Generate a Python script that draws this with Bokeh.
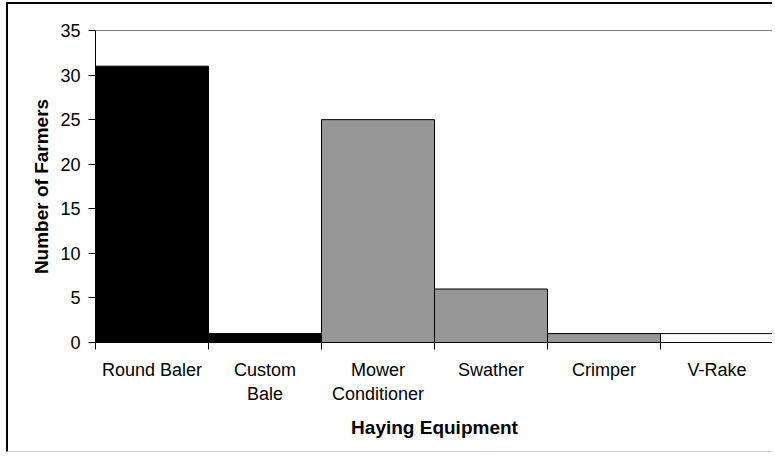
from bokeh.plotting import figure
from bokeh.models import ColumnDataSource, FixedTicker, Range1d
from bokeh.embed import file_html
from bokeh.resources import INLINE

categories = ["Round Baler", "Custom Bale", "Mower Conditioner", "Swather", "Crimper", "V-Rake"]
tick_labels = ["Round Baler", "Custom\nBale", "Mower\nConditioner", "Swather", "Crimper", "V-Rake"]
farmers = [31, 1, 25, 6, 1, 1]
colors = ["#000000", "#000000", "#969696", "#969696", "#969696", "#ffffff"]

xs = [i + 0.5 for i in range(len(categories))]
src = ColumnDataSource(dict(x=xs, top=farmers, color=colors, cat=categories))

p = figure(width=766, height=450, output_backend="svg", toolbar_location=None,
           x_range=Range1d(0, len(categories)), y_range=Range1d(0, 35),
           min_border_left=87, min_border_right=1, min_border_top=26, min_border_bottom=112)
p.styles = {"border-top": "2px solid black", "border-left": "2px solid black",
            "border-bottom": "1px solid #cccccc", "margin-left": "6px", "margin-top": "2px"}

p.vbar(x="x", top="top", width=1.0, bottom=0, source=src,
       fill_color="color", line_color="black", line_width=1)

p.xgrid.visible = False
p.ygrid.visible = False
p.outline_line_color = "#808080"
p.outline_line_width = 1
p.background_fill_color = "white"
p.border_fill_color = "white"

font = "Liberation Sans"
xa = p.xaxis[0]
xa.ticker = FixedTicker(ticks=xs, minor_ticks=list(range(len(categories) + 1)))
xa.major_label_overrides = {x: lab for x, lab in zip(xs, tick_labels)}
xa.major_tick_out = 0
xa.major_tick_in = 0
xa.minor_tick_out = 7
xa.minor_tick_in = 0
xa.minor_tick_line_color = "black"
xa.axis_line_color = "black"
xa.major_label_text_font = font
xa.major_label_text_font_size = "18px"
xa.major_label_text_color = "black"
xa.major_label_standoff = 10
xa.axis_label = "Haying Equipment"
xa.axis_label_text_font = font
xa.axis_label_text_font_style = "bold"
xa.axis_label_text_font_size = "19px"
xa.axis_label_text_color = "black"
xa.axis_label_standoff = 10

ya = p.yaxis[0]
ya.ticker = FixedTicker(ticks=[0, 5, 10, 15, 20, 25, 30, 35])
ya.major_tick_out = 7
ya.major_tick_in = 0
ya.minor_tick_line_color = None
ya.axis_line_color = "black"
ya.major_tick_line_color = "black"
ya.major_label_text_font = font
ya.major_label_text_font_size = "18px"
ya.major_label_text_color = "black"
ya.major_label_standoff = 8
ya.axis_label = "Number of Farmers"
ya.axis_label_text_font = font
ya.axis_label_text_font_style = "bold"
ya.axis_label_text_font_size = "19px"
ya.axis_label_text_color = "black"
ya.axis_label_standoff = 5

open("out.html", "w").write(file_html(p, INLINE))
